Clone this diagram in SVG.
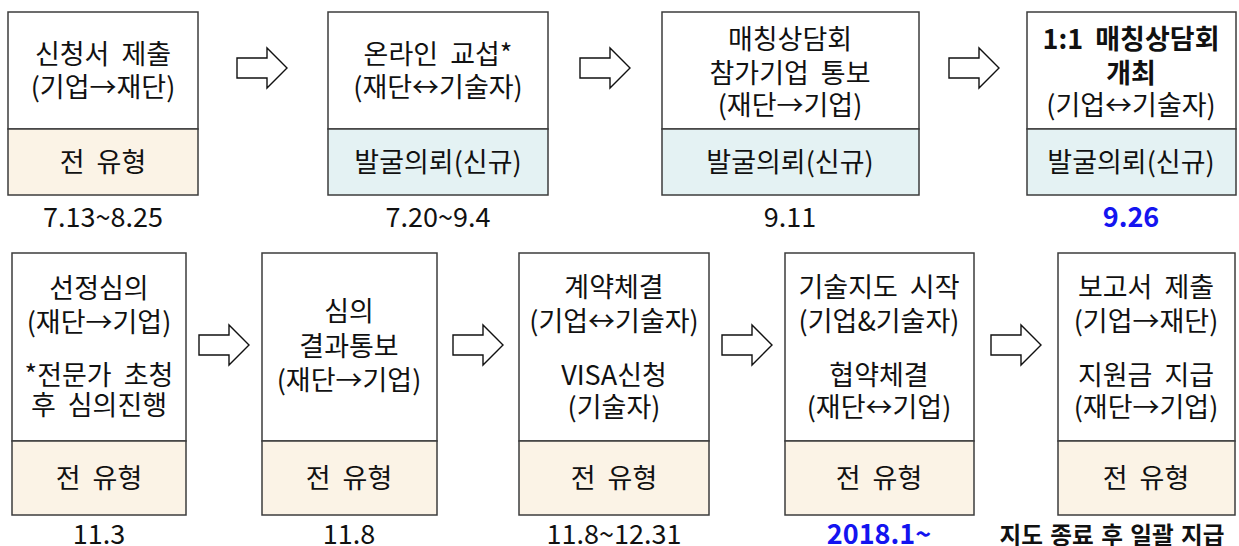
<svg xmlns="http://www.w3.org/2000/svg" width="1239" height="546" viewBox="0 0 1239 546">
<style>
.box{fill:#ffffff;stroke:#3c3c3c;stroke-width:1.5}
.beige{fill:#fbf3e6;stroke:#3c3c3c;stroke-width:1.5}
.cyan{fill:#e4f2f3;stroke:#3c3c3c;stroke-width:1.5}
.t{font-family:"Noto Sans CJK KR","Noto Sans",sans-serif;font-size:27px;fill:#111;text-anchor:middle;word-spacing:6px}
.b{font-weight:bold}
.blue{fill:#1414f0}
.arr{fill:#ffffff;stroke:#111;stroke-width:1.4;stroke-linejoin:miter}
</style>
<g id="connectors">
<polygon class="arr" points="237,58 267,58 267,48 287,68 267,88 267,78 237,78"/>
<polygon class="arr" points="580,58 610,58 610,48 630,68 610,88 610,78 580,78"/>
<polygon class="arr" points="949,58 979,58 979,48 999,68 979,88 979,78 949,78"/>
<polygon class="arr" points="199,335 229,335 229,325 249,345 229,365 229,355 199,355"/>
<polygon class="arr" points="453,335 483,335 483,325 503,345 483,365 483,355 453,355"/>
<polygon class="arr" points="722,335 752,335 752,325 772,345 752,365 752,355 722,355"/>
<polygon class="arr" points="991,335 1021,335 1021,325 1041,345 1021,365 1021,355 991,355"/>
</g>
<g id="node1">
<rect class="box" x="8" y="12" width="190" height="117"/>
<rect class="beige" x="8" y="129" width="190" height="66"/>
<text class="t" x="103" y="64">신청서 제출</text>
<text class="t" x="103" y="97">(기업→재단)</text>
<text class="t" x="103" y="172">전 유형</text>
<text class="t" x="103" y="227">7.13~8.25</text>
</g>
<g id="node2">
<rect class="box" x="328" y="12" width="220" height="117"/>
<rect class="cyan" x="328" y="129" width="220" height="66"/>
<text class="t" x="438" y="64">온라인 교섭*</text>
<text class="t" x="438" y="97">(재단↔기술자)</text>
<text class="t" x="438" y="172">발굴의뢰(신규)</text>
<text class="t" x="438" y="227">7.20~9.4</text>
</g>
<g id="node3">
<rect class="box" x="662" y="12" width="257" height="117"/>
<rect class="cyan" x="662" y="129" width="257" height="66"/>
<text class="t" x="790" y="49">매칭상담회</text>
<text class="t" x="790" y="83">참가기업 통보</text>
<text class="t" x="790" y="115">(재단→기업)</text>
<text class="t" x="790" y="172">발굴의뢰(신규)</text>
<text class="t" x="790" y="227">9.11</text>
</g>
<g id="node4">
<rect class="box" x="1027" y="12" width="209" height="117"/>
<rect class="cyan" x="1027" y="129" width="209" height="66"/>
<text class="t b" x="1131" y="49">1:1 매칭상담회</text>
<text class="t b" x="1131" y="83">개최</text>
<text class="t" x="1131" y="115">(기업↔기술자)</text>
<text class="t" x="1131" y="172">발굴의뢰(신규)</text>
<text class="t b blue" x="1131" y="227">9.26</text>
</g>
<g id="node5">
<rect class="box" x="12" y="253" width="174" height="188"/>
<rect class="beige" x="12" y="441" width="174" height="74"/>
<text class="t" x="99" y="298">선정심의</text>
<text class="t" x="99" y="332">(재단→기업)</text>
<text class="t" x="99" y="385">*전문가 초청</text>
<text class="t" x="99" y="415">후 심의진행</text>
<text class="t" x="99" y="488">전 유형</text>
<text class="t" x="99" y="544">11.3</text>
</g>
<g id="node6">
<rect class="box" x="262" y="253" width="175" height="188"/>
<rect class="beige" x="262" y="441" width="175" height="74"/>
<text class="t" x="349" y="321">심의</text>
<text class="t" x="349" y="356">결과통보</text>
<text class="t" x="349" y="390">(재단→기업)</text>
<text class="t" x="349" y="488">전 유형</text>
<text class="t" x="349" y="544">11.8</text>
</g>
<g id="node7">
<rect class="box" x="519" y="253" width="190" height="188"/>
<rect class="beige" x="519" y="441" width="190" height="74"/>
<text class="t" x="614" y="297">계약체결</text>
<text class="t" x="614" y="331">(기업↔기술자)</text>
<text class="t" x="614" y="385">VISA신청</text>
<text class="t" x="614" y="417">(기술자)</text>
<text class="t" x="614" y="488">전 유형</text>
<text class="t" x="614" y="544">11.8~12.31</text>
</g>
<g id="node8">
<rect class="box" x="785" y="253" width="189" height="188"/>
<rect class="beige" x="785" y="441" width="189" height="74"/>
<text class="t" x="879" y="297">기술지도 시작</text>
<text class="t" x="879" y="331">(기업&amp;기술자)</text>
<text class="t" x="879" y="385">협약체결</text>
<text class="t" x="879" y="417">(재단↔기업)</text>
<text class="t" x="879" y="488">전 유형</text>
<text class="t b blue" x="879" y="544">2018.1~</text>
</g>
<g id="node9">
<rect class="box" x="1058" y="253" width="177" height="188"/>
<rect class="beige" x="1058" y="441" width="177" height="74"/>
<text class="t" x="1146" y="297">보고서 제출</text>
<text class="t" x="1146" y="331">(기업→재단)</text>
<text class="t" x="1146" y="385">지원금 지급</text>
<text class="t" x="1146" y="417">(재단→기업)</text>
<text class="t" x="1146" y="488">전 유형</text>
<text class="t b" x="1112" y="544" style="font-size:24px;word-spacing:2px" textLength="225" lengthAdjust="spacingAndGlyphs">지도 종료 후 일괄 지급</text>
</g>
</svg>
